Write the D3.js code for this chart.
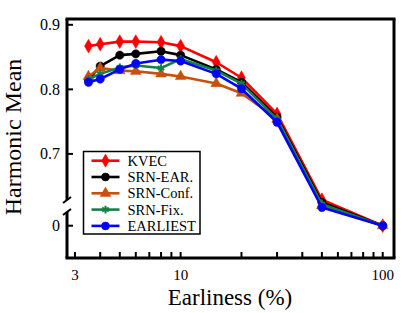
<!DOCTYPE html>
<html>
<head>
<meta charset="utf-8">
<script src="https://cdn.jsdelivr.net/npm/d3@7"></script>
<style>
  body { margin: 0; background: #fff; }
  svg text { font-family: 'Liberation Serif', 'Times New Roman', Times, 'DejaVu Serif', serif; }
</style>
</head>
<body>
<script>
// Datos
const earliness = [3.5, 4, 5, 6, 8, 10, 15, 20, 30, 50, 100];
const kvec     = [0.867, 0.870, 0.874, 0.874, 0.873, 0.867, 0.842, 0.818, 0.762, 0.629, 0];
const srnEar   = [0.815, 0.836, 0.853, 0.855, 0.859, 0.853, 0.831, 0.811, 0.757, 0.625, 0];
const srnConf  = [0.820, 0.833, 0.829, 0.828, 0.824, 0.820, 0.809, 0.794, 0.754, 0.620, 0];
const srnFix   = [0.816, 0.824, 0.834, 0.837, 0.833, 0.847, 0.829, 0.809, 0.754, 0.622, 0];
const earliest = [0.811, 0.816, 0.831, 0.840, 0.846, 0.844, 0.824, 0.801, 0.749, 0.617, 0];

const seriesNames = ['KVEC', 'SRN-EAR.', 'SRN-Conf.', 'SRN-Fix.', 'EARLIEST'];
const seriesValues = [kvec, srnEar, srnConf, srnFix, earliest];
const colors = ['#ff0000', '#000000', '#c8500a', '#13804a', '#0000ff'];
const symbols = [d3.symbolDiamond, d3.symbolCircle, d3.symbolTriangle, d3.symbolAsterisk, d3.symbolCircle];

const xTickLabels = [3, 10, 100];
const xMinorTicks = [3, 4, 5, 6, 7, 8, 9, 10, 20, 30, 40, 50, 60, 70, 80, 90, 100];
const yTickLabels = [0.9, 0.8, 0.7, 0];

// Parámetros del gráfico
const width = 415;
const height = 313;
const box = { left: 67, right: 394, top: 19, bottom: 258 };
const breakTop = 200;
const breakBottom = 212;
const serif = "'Liberation Serif', 'Times New Roman', Times, 'DejaVu Serif', serif";

const svg = d3.select('body')
  .append('svg')
  .attr('width', width)
  .attr('height', height)
  .attr('font-family', serif);

// Escalas (eje y partido: tramo alto lineal, tramo bajo comprimido)
const x = d3.scaleLog().domain([2.74, 113.7]).range([box.left, box.right]);
const y = d3.scaleLinear().domain([0, 0.61, 0.909]).range([225.7, 212, 19]);

// Líneas y marcadores
const line = d3.line().x((d, i) => x(earliness[i])).y(d => y(d));

seriesValues.forEach((values, s) => {
  const g = svg.append('g');
  g.append('path')
    .attr('d', line(values))
    .attr('fill', 'none')
    .attr('stroke', colors[s])
    .attr('stroke-width', 2.6)
    .attr('stroke-linejoin', 'round');
  const isStroke = symbols[s] === d3.symbolAsterisk;
  g.selectAll('path.marker')
    .data(values)
    .enter()
    .append('path')
    .classed('marker', true)
    .attr('transform', (d, i) => `translate(${x(earliness[i])},${y(d)})`)
    .attr('d', d3.symbol().type(symbols[s]).size(isStroke ? 40 : (s === 2 ? 50 : 55)))
    .attr('fill', isStroke ? 'none' : colors[s])
    .attr('stroke', colors[s])
    .attr('stroke-width', isStroke ? 2 : 0.5);
});

// Marco
const frame = svg.append('g').attr('stroke', '#000').attr('stroke-width', 3).attr('fill', 'none');
frame.append('line').attr('x1', box.left - 1.5).attr('x2', box.right + 1.5).attr('y1', box.top).attr('y2', box.top);
frame.append('line').attr('x1', box.left - 1.5).attr('x2', box.right + 1.5).attr('y1', box.bottom).attr('y2', box.bottom);
frame.append('line').attr('x1', box.right).attr('x2', box.right).attr('y1', box.top).attr('y2', box.bottom);
frame.append('line').attr('x1', box.left).attr('x2', box.left).attr('y1', box.top).attr('y2', breakTop);
frame.append('line').attr('x1', box.left).attr('x2', box.left).attr('y1', breakBottom).attr('y2', box.bottom);
// Marcas de corte
frame.append('line').attr('x1', box.left - 4).attr('x2', box.left + 4).attr('y1', breakTop + 3).attr('y2', breakTop - 3).attr('stroke-width', 2);
frame.append('line').attr('x1', box.left - 4).attr('x2', box.left + 4).attr('y1', breakBottom + 3).attr('y2', breakBottom - 3).attr('stroke-width', 2);

// Eje x
const xTicks = svg.append('g');
xTicks.selectAll('line')
  .data(xMinorTicks)
  .enter()
  .append('line')
  .attr('x1', d => x(d)).attr('x2', d => x(d))
  .attr('y1', box.bottom).attr('y2', box.bottom - 6)
  .attr('stroke', '#000').attr('stroke-width', 2);
xTicks.selectAll('text')
  .data(xTickLabels)
  .enter()
  .append('text')
  .attr('x', d => x(d))
  .attr('y', 280)
  .attr('text-anchor', 'middle')
  .attr('font-family', serif)
  .attr('font-size', 15)
  .text(d => d);

// Eje y
const yTicks = svg.append('g');
yTicks.selectAll('line')
  .data(yTickLabels)
  .enter()
  .append('line')
  .attr('x1', box.left).attr('x2', box.left + 6)
  .attr('y1', d => y(d)).attr('y2', d => y(d))
  .attr('stroke', '#000').attr('stroke-width', 2);
yTicks.selectAll('text')
  .data(yTickLabels)
  .enter()
  .append('text')
  .attr('x', 60)
  .attr('y', d => y(d) + 5.5)
  .attr('text-anchor', 'end')
  .attr('font-family', serif)
  .attr('font-size', 16)
  .text(d => d === 0 ? '0' : d.toFixed(1));

// Títulos
svg.append('text')
  .attr('x', 230)
  .attr('y', 305)
  .attr('text-anchor', 'middle')
  .attr('font-family', serif)
  .attr('font-size', 23)
  .text('Earliness (%)');
svg.append('text')
  .attr('transform', 'translate(21,137) rotate(-90)')
  .attr('text-anchor', 'middle')
  .attr('font-family', serif)
  .attr('font-size', 24)
  .text('Harmonic Mean');

// Leyenda
const legend = svg.append('g');
legend.append('rect')
  .attr('x', 83.5).attr('y', 151.5)
  .attr('width', 116.5).attr('height', 82.5)
  .attr('fill', '#fff').attr('stroke', '#000').attr('stroke-width', 1.5);
const legendItems = legend.selectAll('g.item')
  .data(seriesNames)
  .enter()
  .append('g')
  .classed('item', true)
  .attr('transform', (d, i) => `translate(0,${160.7 + i * 16.3})`);
legendItems.append('line')
  .attr('x1', 91.5).attr('x2', 119.5)
  .attr('stroke', (d, i) => colors[i]).attr('stroke-width', 2.6);
legendItems.append('path')
  .attr('transform', 'translate(105.5,0)')
  .attr('d', (d, i) => d3.symbol().type(symbols[i]).size(symbols[i] === d3.symbolAsterisk ? 40 : 50)())
  .attr('fill', (d, i) => symbols[i] === d3.symbolAsterisk ? 'none' : colors[i])
  .attr('stroke', (d, i) => colors[i])
  .attr('stroke-width', (d, i) => symbols[i] === d3.symbolAsterisk ? 2 : 0.5);
legendItems.append('text')
  .attr('x', 127.5)
  .attr('y', 5)
  .attr('font-family', serif)
  .attr('font-size', 14.5)
  .text(d => d);
</script>
</body>
</html>
